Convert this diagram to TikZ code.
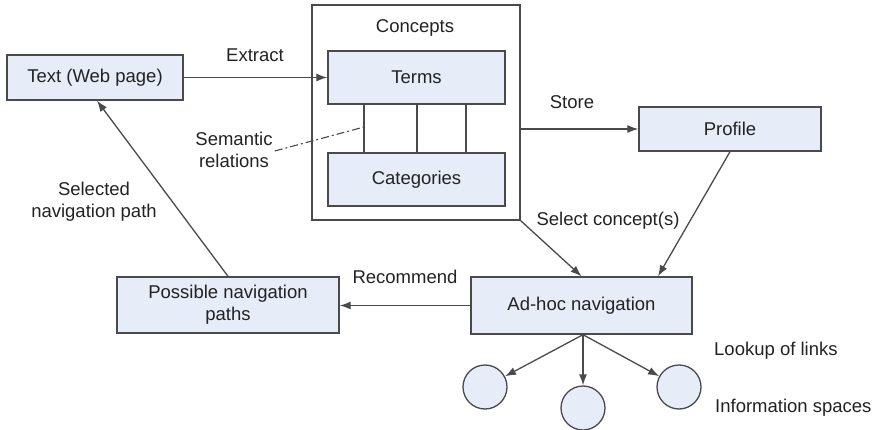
\documentclass[tikz,border=0pt]{standalone}
\usepackage{fontspec}
\setmainfont{Liberation Sans}
\usetikzlibrary{arrows.meta}
\definecolor{boxfill}{HTML}{E6ECF8}
\definecolor{edge}{HTML}{4A4A4A}
\definecolor{ink}{HTML}{222222}
\tikzset{
  box/.style={draw=edge, line width=1.4pt, fill=boxfill, rectangle, inner sep=0pt,
              align=center, text=ink, font=\fontsize{18.5}{22}\selectfont},
  frame/.style={draw=edge, line width=1.4pt, rectangle, inner sep=0pt},
  space/.style={draw=edge, line width=1.3pt, fill=boxfill, circle, inner sep=0pt, minimum size=44pt},
  lbl/.style={text=ink, inner sep=0pt, align=center, font=\fontsize{18.5}{22}\selectfont},
  flow/.style={draw=edge, line width=1.3pt, -{Latex[length=11pt,width=8pt]}},
  link/.style={draw=edge, line width=1.3pt},
  relation/.style={draw=edge, line width=1.1pt, dash pattern=on 8pt off 3pt on 2pt off 3pt}
}
\begin{document}
\begin{tikzpicture}[x=1pt, y=-1pt]
\useasboundingbox (0,0) rectangle (877,430);

% Concept store with its two parts
\node[frame, minimum width=208pt, minimum height=215pt] (concepts) at (416,112.5) {};
\node[lbl] (conceptslbl) at (415,28) {Concepts};
\node[box, minimum width=177pt, minimum height=53pt] (terms) at (416.5,77.5) {Terms};
\node[box, minimum width=177pt, minimum height=53pt] (categories) at (416.5,179.5) {Categories};

% Other blocks
\node[box, minimum width=176pt, minimum height=45pt] (text) at (95,77.5) {Text (Web page)};
\node[box, minimum width=182pt, minimum height=44pt] (profile) at (730,129) {Profile};
\node[box, minimum width=221pt, minimum height=57pt] (adhoc) at (581.5,305.5) {Ad-hoc navigation};
\node[box, minimum width=222pt, minimum height=56pt] (paths) at (228,305) {Possible navigation\\paths};

% Information spaces
\node[space] (s1) at (485,387) {};
\node[space] (s2) at (583,408) {};
\node[space] (s3) at (679,387) {};

% Semantic relations between terms and categories
\draw[link] ([xshift=-52.5pt]terms.south) -- ([xshift=-52.5pt]categories.north);
\draw[link] ([xshift=0.5pt]terms.south) -- ([xshift=0.5pt]categories.north);
\draw[link] ([xshift=49.5pt]terms.south) -- ([xshift=49.5pt]categories.north);
\coordinate (reltip) at (364,127);

% Labels
\node[lbl] (extract) at (255,55) {Extract};
\node[lbl] (sem) at (234,150) {Semantic\\relations};
\node[lbl] (store) at (572,102) {Store};
\node[lbl] (select) at (608,221) {Select concept(s)};
\node[lbl] (recommend) at (405,277) {Recommend};
\node[lbl] (selected) at (94,202) {Selected\\navigation path};
\node[lbl, anchor=west] (lookup) at (714,351) {Lookup of links};
\node[lbl, anchor=west] (infospaces) at (715,408) {Information spaces};

\draw[relation] ([xshift=2pt,yshift=-1pt]sem.east) -- (reltip);

% Connectors
\draw[flow] (text.east) -- (terms.west |- text.east);
\draw[flow] (concepts.east |- profile.west) -- (profile.west);
\draw[flow] (concepts.south east) -- (adhoc.north);
\draw[flow] (profile.south) -- ([xshift=76.5pt]adhoc.north);
\draw[flow] (adhoc.west) -- (paths.east |- adhoc.west);
\draw[flow] (paths.north) -- ([xshift=2pt]text.south);
\draw[flow] ([xshift=1.5pt]adhoc.south) -- (s1);
\draw[flow] ([xshift=1.5pt]adhoc.south) -- (s2);
\draw[flow] ([xshift=1.5pt]adhoc.south) -- (s3);
\end{tikzpicture}
\end{document}
